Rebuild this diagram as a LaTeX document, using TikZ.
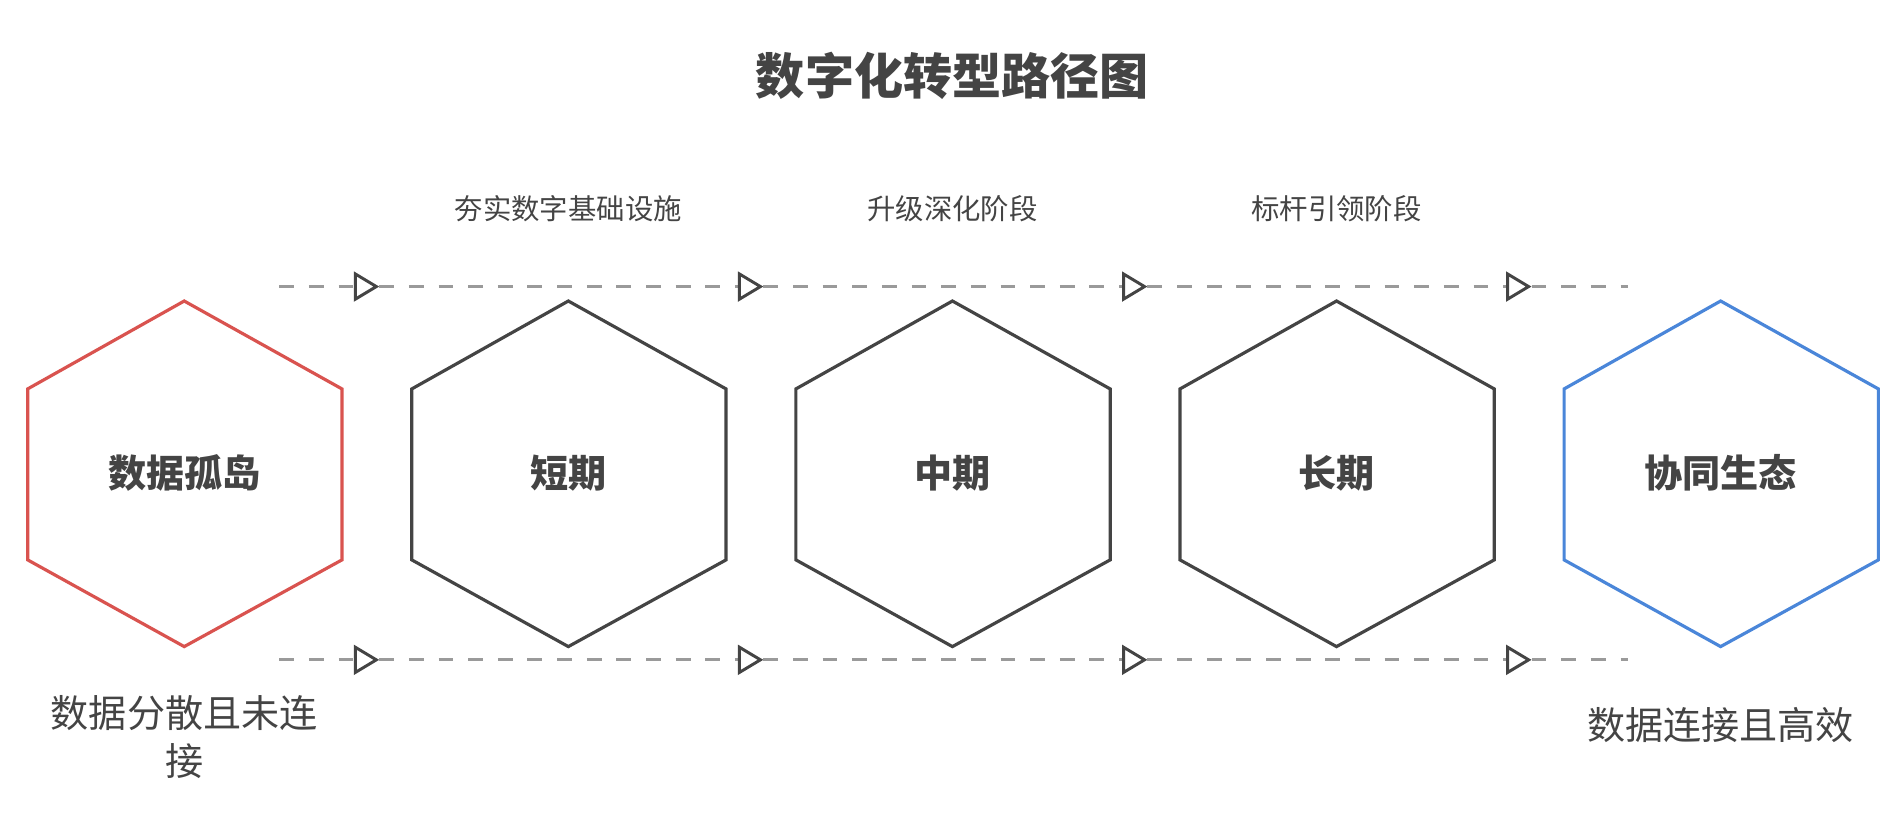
\documentclass[tikz,border=0pt]{standalone}
\usepackage{fontspec}
\setmainfont{Noto Sans CJK SC}
\usetikzlibrary{arrows.meta}

\definecolor{hexred}{HTML}{D9534F}
\definecolor{hexblue}{HTML}{4A86D9}
\definecolor{hexgray}{HTML}{444444}
\definecolor{dashgray}{HTML}{9A9A9A}

\tikzset{
  hexagon/.style={line width=0.75pt},
  hexlabel/.style={font=\fontsize{9}{10}\selectfont\bfseries, text=hexgray},
  phaselabel/.style={font=\fontsize{6.7}{8}\selectfont, text=hexgray},
  flow/.style={dashgray, line width=0.7pt, dash pattern=on 3.5pt off 3.5pt,
    -{Triangle[open, length=6pt, width=7pt, line width=0.7pt, color=hexgray]}}
}

\begin{document}
\begin{tikzpicture}[x=0.01cm, y=-0.01cm]
    \path[use as bounding box] (0,0) rectangle (1568,697);

    \node (title) at (791,63) [font=\fontsize{11.6}{13}\selectfont\bfseries, text=hexgray] {数字化转型路径图};

    \node (short-phase) at (472,173) [phaselabel] {夯实数字基础设施};
    \node (mid-phase) at (791,173) [phaselabel] {升级深化阶段};
    \node (long-phase) at (1110,173) [phaselabel] {标杆引领阶段};

    \draw[hexagon, hexred] (153,250) -- (284,323) -- (284,465) -- (153,537) -- (23,465) -- (23,323) -- cycle;
    \draw[hexagon, hexgray] (472,250) -- (603,323) -- (603,465) -- (472,537) -- (342,465) -- (342,323) -- cycle;
    \draw[hexagon, hexgray] (791,250) -- (922,323) -- (922,465) -- (791,537) -- (661,465) -- (661,323) -- cycle;
    \draw[hexagon, hexgray] (1110,250) -- (1241,323) -- (1241,465) -- (1110,537) -- (980,465) -- (980,323) -- cycle;
    \draw[hexagon, hexblue] (1429,250) -- (1560,323) -- (1560,465) -- (1429,537) -- (1299,465) -- (1299,323) -- cycle;

    \node (island) at (153,393) [hexlabel] {数据孤岛};
    \node (short) at (472,393) [hexlabel] {短期};
    \node (mid) at (791,393) [hexlabel] {中期};
    \node (long) at (1110,393) [hexlabel] {长期};
    \node (ecosystem) at (1429,393) [hexlabel] {协同生态};

    \node (scattered) at (153,612) [font=\fontsize{9}{11.2}\selectfont, text=hexgray, align=center] {数据分散且未连\\接};
    \node (connected) at (1429,602) [font=\fontsize{9}{11}\selectfont, text=hexgray] {数据连接且高效};

    \foreach \row in {238,548} {
      \coordinate (start-\row) at (232,\row);
      \coordinate (a-\row) at (315,\row);
      \coordinate (b-\row) at (634,\row);
      \coordinate (c-\row) at (953,\row);
      \coordinate (d-\row) at (1272,\row);
      \coordinate (end-\row) at (1352,\row);
      \draw[flow] (start-\row) -- (a-\row);
      \draw[flow] (a-\row) -- (b-\row);
      \draw[flow] (b-\row) -- (c-\row);
      \draw[flow] (c-\row) -- (d-\row);
      \draw[flow, -] (d-\row) -- (end-\row);
    }
\end{tikzpicture}
\end{document}
